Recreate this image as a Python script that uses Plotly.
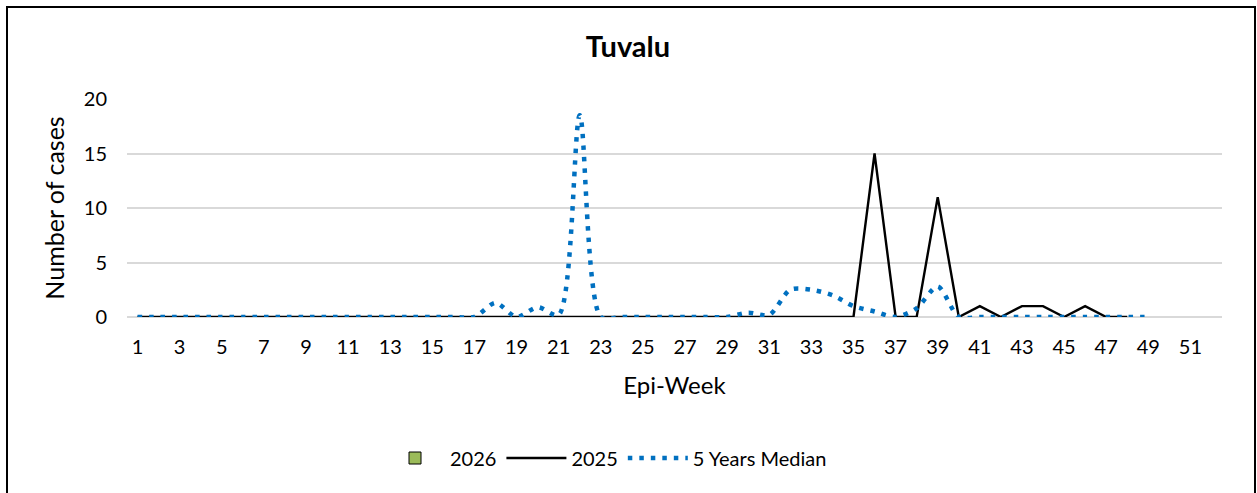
import plotly.graph_objects as go

weeks = list(range(1, 53))
tick_vals = list(range(1, 52, 2))

y2026 = [None]

y2025 = [0] * 35 + [15, 0, 0, 11, 0, 1, 0, 1, 1, 0, 1, 0, 0]

median = ([0] * 17 +
          [1.3, 0, 0.9, 0.2, 18.5, 0, 0, 0, 0, 0, 0, 0, 0.4, 0.2,
           2.5, 2.5, 2.0, 1.0, 0.5, 0, 0.8, 2.8, 0, 0, 0, 0, 0, 0, 0, 0, 0, 0])

FONT = "Lato"
W, H = 1257, 493
L, R, T, B = 127, 35, 99, 176
PW, PH = W - L - R, H - T - B

fig = go.Figure()
fig.add_trace(go.Bar(x=[1], y=y2026, name="2026",
                     marker=dict(color="#9BBB59", line=dict(color="black", width=1))))
fig.add_trace(go.Scatter(x=weeks[:len(y2025)], y=y2025, name="2025", mode="lines",
                         line=dict(color="black", width=2.4)))
fig.add_trace(go.Scatter(x=weeks[:len(median)], y=median, name="5 Years Median", mode="lines",
                         line=dict(color="#0070C0", width=4.5, dash="4.5px,7px",
                                   shape="spline", smoothing=0.8)))

fig.update_layout(
    width=W, height=H,
    paper_bgcolor="white", plot_bgcolor="white",
    margin=dict(l=L, r=R, t=T, b=B),
    font=dict(family=FONT, size=20, color="black"),
    title=dict(text="<b>Tuvalu</b>", x=628 / W, xanchor="center", y=1 - 47 / H,
               yanchor="middle", font=dict(family=FONT, size=29, color="black")),
    xaxis=dict(range=[0.5, 52.5], tickmode="array", tickvals=tick_vals,
               ticktext=[str(v) for v in tick_vals], showgrid=False, zeroline=False,
               showline=False, ticks="", tickfont=dict(size=20), ticklabelstandoff=16,
               title=dict(text="Epi-Week", font=dict(size=24), standoff=20)),
    yaxis=dict(range=[0, 20], tickvals=[0, 5, 10, 15, 20], showgrid=True,
               gridcolor="#D9D9D9", gridwidth=1.5, zeroline=True, zerolinecolor="#D9D9D9",
               zerolinewidth=1.5, showline=False, ticks="", ticklabelstandoff=19,
               tickfont=dict(size=20),
               title=dict(text="Number of cases", font=dict(size=25), standoff=12)),
    legend=dict(orientation="h", x=(606 - L) / PW, xanchor="center",
                y=(317 - 458) / PH, yanchor="middle",
                font=dict(size=20), itemwidth=60, traceorder="normal"),
    showlegend=True,
    shapes=[dict(type="rect", xref="paper", yref="paper",
                 x0=(7 - L) / PW, x1=(1255 - L) / PW,
                 y0=-(H + 20 - (T + PH)) / PH, y1=(T + PH - 7) / PH,
                 line=dict(color="black", width=2), fillcolor="rgba(0,0,0,0)", layer="below")],
)

fig.write_html("out.html", config={"displayModeBar": False},
               post_script="document.body.style.margin='0';document.body.style.overflow='hidden';")
